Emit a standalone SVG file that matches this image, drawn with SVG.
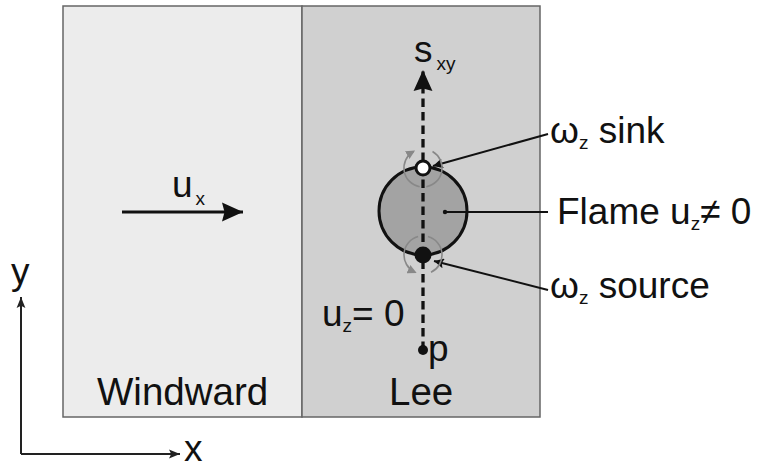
<svg xmlns="http://www.w3.org/2000/svg" width="758" height="468" viewBox="0 0 758 468">
<defs>
<style>
text{font-family:"Liberation Sans",Arial,sans-serif;font-size:37px;fill:#111}
.big{font-size:38.5px}
.sub{font-size:19px}
.pane{stroke:#666;stroke-width:1.5}
.lead{stroke:#111;stroke-width:2;fill:none}
.rot{stroke:#888;stroke-width:1.6;fill:none}
.axis{stroke:#222;stroke-width:2;fill:none}
</style>
<marker id="ahBlack" viewBox="0 0 10 10" refX="10" refY="5" markerWidth="10" markerHeight="10" markerUnits="userSpaceOnUse" orient="auto">
<path d="M0,0 L10,5 L0,10 L2,5 Z" fill="#111"/>
</marker>
<marker id="ahAxis" viewBox="0 0 10 10" refX="10" refY="5" markerWidth="11" markerHeight="11" markerUnits="userSpaceOnUse" orient="auto">
<path d="M0,1 L10,5 L0,9 L2,5 Z" fill="#222"/>
</marker>
<marker id="ahGray" viewBox="0 0 10 10" refX="8" refY="5" markerWidth="9" markerHeight="9" markerUnits="userSpaceOnUse" orient="auto">
<path d="M0,0 L10,5 L0,10 Z" fill="#888"/>
</marker>
<marker id="ahDash" viewBox="0 0 10 10" refX="10" refY="5" markerWidth="23" markerHeight="21" markerUnits="userSpaceOnUse" orient="auto">
<path d="M0,0.5 L10,5 L0,9.5 L1.2,5 Z" fill="#111"/>
</marker>
</defs>

<g id="windward">
<rect class="pane" x="63" y="6" width="239" height="411" fill="#ececec"/>
<text class="big" x="97" y="405">Windward</text>
</g>
<g id="lee">
<rect class="pane" x="302" y="6" width="238" height="411" fill="#d0d0d0"/>
<text class="big" x="389" y="405">Lee</text>
</g>

<g id="flame">
<circle cx="423" cy="211" r="44" fill="#a3a3a3" stroke="#111" stroke-width="3"/>
</g>

<g id="connectors">
<line x1="423" y1="350" x2="423" y2="70" stroke="#111" stroke-width="3.3" stroke-dasharray="8.5,5" marker-end="url(#ahDash)"/>
<line x1="122" y1="212" x2="243" y2="212" stroke="#111" stroke-width="3" marker-end="url(#ahDash)"/>
<path class="lead" d="M548,134 L433,166" marker-end="url(#ahBlack)"/>
<path class="lead" d="M548,290 L434,261" marker-end="url(#ahBlack)"/>
<path class="lead" d="M445,212 L548,212"/>
<circle cx="445" cy="212" r="2.2" fill="#111"/>
<path class="axis" d="M21,454 L21,297" marker-end="url(#ahAxis)"/>
<path class="axis" d="M21,454 L180,454" marker-end="url(#ahAxis)"/>
<path class="rot" d="M419.7,186.7 A19,19 0 0 1 413.5,151.5" marker-end="url(#ahGray)"/>
<path class="rot" d="M432.5,151.5 A19,19 0 0 1 426.3,186.7"/>
<path class="rot" d="M418.1,236.6 A19,19 0 0 0 415,272.2" marker-end="url(#ahGray)"/>
<path class="rot" d="M431,272.2 A19,19 0 0 0 427.9,236.6"/>
</g>

<g id="sink">
<circle cx="423" cy="168" r="7" fill="#fff" stroke="#111" stroke-width="3"/>
<text x="550" y="143">ω<tspan class="sub" dy="6">z</tspan><tspan dy="-6"> sink</tspan></text>
</g>
<g id="source">
<circle cx="423" cy="255" r="8.5" fill="#111"/>
<text x="550" y="298">ω<tspan class="sub" dy="6">z</tspan><tspan dy="-6"> source</tspan></text>
</g>
<g id="flame-label">
<text x="557" y="224">Flame u<tspan class="sub" dy="6">z</tspan><tspan dy="-6">≠ 0</tspan></text>
</g>
<g id="p">
<circle cx="423" cy="350" r="5" fill="#111"/>
<text x="428" y="361">p</text>
</g>
<g id="uz0">
<text x="322" y="326">u<tspan class="sub" dy="6">z</tspan><tspan dy="-6">= 0</tspan></text>
</g>
<g id="sxy">
<text x="414" y="62">s<tspan class="sub" dx="4" dy="8">xy</tspan></text>
</g>
<g id="ux">
<text x="172" y="197">u<tspan class="sub" dx="3" dy="8">x</tspan></text>
</g>
<g id="axes-labels">
<text x="11" y="284">y</text>
<text x="184" y="461">x</text>
</g>
</svg>
